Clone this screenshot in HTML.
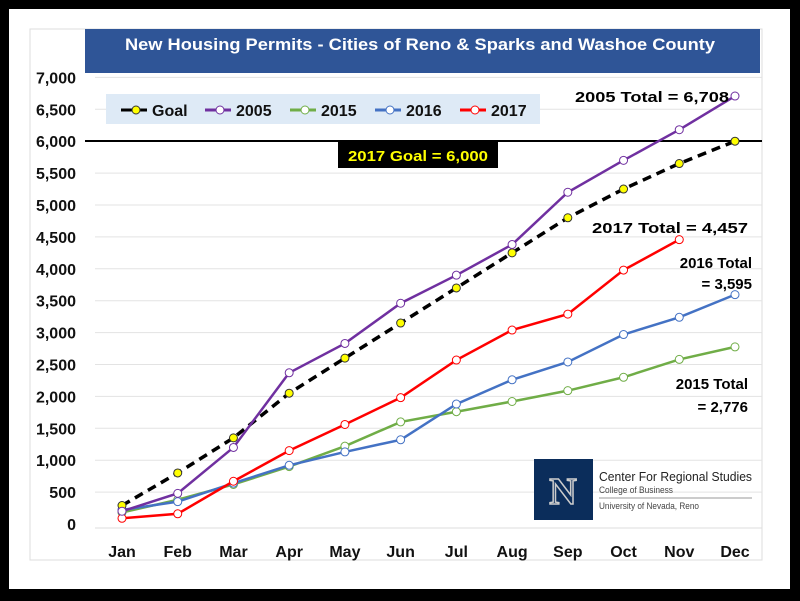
<!DOCTYPE html>
<html><head><meta charset="utf-8"><style>
body{margin:0;background:#000;}
svg{display:block;font-family:"Liberation Sans",sans-serif;}
</style></head><body>
<svg width="800" height="601">
<rect x="9" y="9" width="781" height="580" fill="#fff"/>
<rect x="30" y="29" width="732" height="531" fill="#fff" stroke="#ddd"/>
<rect x="85" y="29" width="675" height="44" fill="#2F5597"/>
<text x="420" y="50" fill="#fff" font-size="17" font-weight="bold" text-anchor="middle" textLength="590" lengthAdjust="spacingAndGlyphs">New Housing Permits - Cities of Reno &amp; Sparks and Washoe County</text>
<g id="grid"></g>
<g id="yticks"></g>
<g id="xticks"></g>
<rect x="106" y="94" width="434" height="30" fill="#DEEAF6"/>
<g id="legend"></g>
<line x1="85" y1="141" x2="762" y2="141" stroke="#000" stroke-width="2"/>
<rect x="338" y="141" width="160" height="27" fill="#000"/>
<text x="418" y="161" fill="#FFFF00" font-size="15" font-weight="bold" text-anchor="middle" textLength="140" lengthAdjust="spacingAndGlyphs">2017 Goal = 6,000</text>
<g id="series"></g>
<text x="575" y="102" font-size="15" font-weight="bold" textLength="154" lengthAdjust="spacingAndGlyphs">2005 Total = 6,708</text>
<text x="592" y="233" font-size="15" font-weight="bold" textLength="156" lengthAdjust="spacingAndGlyphs">2017 Total = 4,457</text>
<text x="752" y="268" font-size="15" font-weight="bold" text-anchor="end">2016 Total</text>
<text x="752" y="289" font-size="15" font-weight="bold" text-anchor="end">= 3,595</text>
<text x="748" y="389" font-size="15" font-weight="bold" text-anchor="end">2015 Total</text>
<text x="748" y="412" font-size="15" font-weight="bold" text-anchor="end">= 2,776</text>
<g>
<rect x="534" y="459" width="59" height="61" fill="#0B2D5B"/>
<text x="563" y="504" fill="#0B2D5B" stroke="#ccc" stroke-width="1.5" font-size="38" font-family="Liberation Serif,serif" font-weight="bold" text-anchor="middle">N</text>
<text x="599" y="481" font-size="13" fill="#222" textLength="153" lengthAdjust="spacingAndGlyphs">Center For Regional Studies</text>
<text x="599" y="493" font-size="9" fill="#444" textLength="74" lengthAdjust="spacingAndGlyphs">College of Business</text>
<line x1="599" y1="498" x2="752" y2="498" stroke="#999"/>
<text x="599" y="509" font-size="9" fill="#444" textLength="100" lengthAdjust="spacingAndGlyphs">University of Nevada, Reno</text>
</g>
</svg>
<script>
const months=["Jan","Feb","Mar","Apr","May","Jun","Jul","Aug","Sep","Oct","Nov","Dec"];
const yTicks=[0,500,1000,1500,2000,2500,3000,3500,4000,4500,5000,5500,6000,6500,7000];
const goal=[290,800,1350,2050,2600,3150,3700,4250,4800,5250,5650,6000];
const s2005=[200,480,1200,2370,2830,3460,3900,4380,5200,5700,6180,6708];
const s2015=[180,380,620,900,1220,1600,1760,1920,2090,2300,2580,2776];
const s2016=[220,350,640,920,1130,1320,1880,2260,2540,2970,3240,3595];
const s2017=[90,160,670,1150,1560,1980,2570,3040,3290,3980,4457];
const NS="http://www.w3.org/2000/svg";
const x=i=>122+i*(735-122)/11;
const y=v=>524-v*0.0638;
function mk(tag,attrs,parent){const e=document.createElementNS(NS,tag);for(const k in attrs)e.setAttribute(k,attrs[k]);document.getElementById(parent).appendChild(e);return e;}
const fmt=v=>v.toLocaleString("en-US");
yTicks.forEach(v=>{
 if(v>0){const g=mk("line",{x1:95,x2:762,y1:y(v),y2:y(v),stroke:"#e3e3e3"},"grid");
 
 }
 const t=mk("text",{x:76,y:y(v)+6,"font-size":16,"font-weight":"bold","text-anchor":"end",fill:"#111"},"yticks");
 t.textContent=fmt(v);
 
 
});
const ax=mk("line",{x1:95,x2:762,y1:528,y2:528,stroke:"#ddd"},"grid");


months.forEach((m,i)=>{
 const t=mk("text",{x:x(i),y:557,"font-size":16,"font-weight":"bold","text-anchor":"middle",fill:"#111"},"xticks");
 t.textContent=m;
 
 
});
const series=[
 {name:"2015",d:s2015,c:"#70AD47",fill:"#fff",dash:""},
 {name:"2016",d:s2016,c:"#4472C4",fill:"#fff",dash:""},
 {name:"2017",d:s2017,c:"#FF0000",fill:"#fff",dash:""},
 {name:"Goal",d:goal,c:"#000",fill:"#FFFF00",dash:"9,6"},
 {name:"2005",d:s2005,c:"#7030A0",fill:"#fff",dash:""}];
series.forEach(s=>{
 const p=mk("polyline",{points:s.d.map((v,i)=>x(i)+","+y(v)).join(" "),fill:"none",stroke:s.c,"stroke-width":s.name=="Goal"?3.5:2.5,"stroke-dasharray":s.dash},"series");
 
 
 s.d.forEach((v,i)=>{
  const c=mk("circle",{cx:x(i),cy:y(v),r:4,fill:s.fill,stroke:s.name=="Goal"?"#333":s.c,"stroke-width":1},"series");
  
  
 });
});
const leg=[["Goal","#000","#FFFF00",121],["2005","#7030A0","#fff",205],["2015","#70AD47","#fff",290],["2016","#4472C4","#fff",375],["2017","#FF0000","#fff",460]];
leg.forEach(l=>{
 const li=mk("line",{x1:l[3],x2:l[3]+26,y1:110,y2:110,stroke:l[1],"stroke-width":3},"legend");
 
 
 const c=mk("circle",{cx:l[3]+15,cy:110,r:4,fill:l[2],stroke:l[0]=="Goal"?"#333":l[1]},"legend");
 
 
 const t=mk("text",{x:l[3]+31,y:116,"font-size":16,"font-weight":"bold",fill:"#111"},"legend");
 t.textContent=l[0];
 
 
});
</script>
</body></html>
